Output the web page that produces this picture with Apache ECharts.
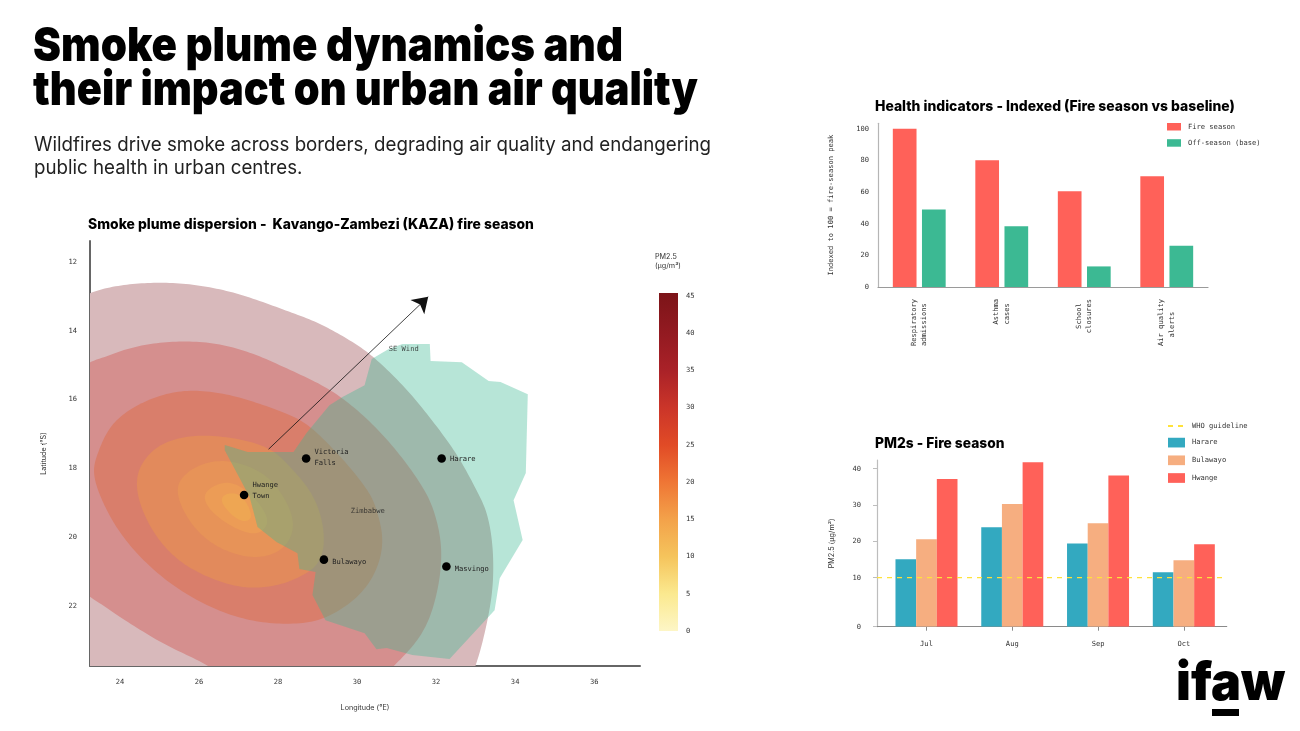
<!DOCTYPE html>
<html>
<head>
<meta charset="utf-8">
<style>html,body{margin:0;padding:0;background:#fff}#c{width:1300px;height:731px}</style>
<script src="https://cdn.jsdelivr.net/npm/echarts@6/dist/echarts.min.js"></script>
</head>
<body>
<div id="c"></div>
<script>
// ---- Data (longitude °E, latitude °S) ----
const plumeOuter = [[22.4,14.0],[22.8,13.2],[23.23,12.89],[23.73,12.73],[24.32,12.63],[24.92,12.60],[25.58,12.61],[26.27,12.73],[26.95,12.90],[27.61,13.16],[28.29,13.45],[28.87,13.69],[29.38,13.98],[29.89,14.33],[30.32,14.65],[30.82,15.20],[31.33,15.78],[31.83,16.51],[32.34,17.26],[32.77,18.05],[33.10,18.83],[33.28,19.21],[33.43,20.08],[33.45,20.87],[33.43,21.62],[33.30,22.41],[33.15,23.19],[33.00,23.72],[32.85,24.2],[32.5,24.8],[30,25.2],[23,25.2],[22.4,24.4]];
const plume2 = [[22.6,15.5],[23.23,14.97],[23.73,14.70],[24.32,14.47],[24.92,14.35],[25.58,14.30],[26.27,14.33],[26.95,14.50],[27.61,14.76],[28.29,15.14],[29.05,15.52],[29.63,15.95],[30.24,16.53],[30.82,17.23],[31.33,17.96],[31.76,18.72],[31.91,19.12],[32.11,19.88],[32.14,20.58],[32.09,21.24],[31.96,21.91],[31.76,22.61],[31.40,23.19],[31.00,23.66],[30.6,24.1],[30.1,24.6],[27.5,24.6],[26.8,24.2],[26.27,23.72],[25.58,23.37],[24.92,22.99],[24.24,22.49],[23.73,22.12],[23.23,21.65],[22.6,21.0]];
const plume3 = [[23.30,18.05],[23.41,17.67],[23.56,17.17],[23.81,16.68],[24.16,16.36],[24.57,16.07],[25.18,15.81],[25.76,15.72],[26.44,15.78],[27.10,15.95],[27.78,16.22],[28.47,16.51],[28.87,16.83],[29.38,17.41],[29.89,18.05],[30.32,18.72],[30.44,19.01],[30.62,19.70],[30.65,20.17],[30.57,20.75],[30.32,21.33],[29.94,21.83],[29.48,22.17],[28.97,22.47],[28.29,22.52],[27.61,22.49],[26.95,22.32],[26.27,22.03],[25.58,21.59],[24.92,21.04],[24.42,20.46],[23.99,19.88],[23.66,19.21],[23.43,18.63]];
const plume4 = [[24.42,18.34],[24.49,17.96],[24.75,17.55],[25.08,17.26],[25.58,17.09],[26.09,17.03],[26.77,17.09],[27.46,17.26],[27.96,17.52],[28.29,17.96],[28.62,18.34],[29.05,19.06],[29.18,19.99],[29.13,20.46],[28.97,20.87],[28.62,21.10],[28.22,21.33],[27.71,21.45],[27.20,21.48],[26.59,21.33],[26.01,21.04],[25.51,20.72],[25.00,20.14],[24.67,19.50],[24.44,18.83]];
const plume5 = [[25.41,18.72],[25.51,18.34],[25.76,18.05],[26.19,17.81],[26.70,17.76],[27.20,17.90],[27.71,18.19],[28.04,18.63],[28.37,19.30],[28.39,19.79],[28.22,20.29],[27.71,20.58],[27.20,20.58],[26.59,20.37],[26.09,19.99],[25.68,19.44]];
const plume6 = [[26.09,18.92],[26.19,18.63],[26.52,18.42],[26.85,18.40],[27.20,18.63],[27.53,19.01],[27.73,19.41],[27.73,19.65],[27.53,19.91],[27.20,19.88],[26.77,19.65],[26.39,19.35]];
const plume7 = [[26.54,18.92],[26.65,18.72],[26.95,18.72],[27.15,18.86],[27.35,19.35],[27.28,19.50],[27.08,19.56],[26.82,19.35],[26.65,19.12]];
const zimbabwe = [[26.65,17.32],[27.23,17.52],[28.39,17.52],[28.72,16.97],[29.30,16.16],[29.63,15.92],[30.19,15.58],[30.37,14.82],[30.80,14.53],[31.15,14.38],[31.84,14.38],[31.86,14.88],[32.65,14.91],[33.33,15.46],[33.63,15.49],[34.32,15.84],[34.27,18.13],[33.96,18.92],[34.19,20.08],[33.61,21.19],[33.48,22.12],[32.34,23.54],[31.40,23.42],[30.75,23.22],[30.49,23.25],[30.19,22.79],[29.20,22.41],[28.87,21.68],[28.95,21.01],[28.54,20.92],[28.49,20.46],[27.96,20.14],[27.48,19.70],[27.28,18.83],[26.65,17.47]];
const cities = [["Victoria\nFalls",28.71,17.71],["Hwange\nTown",27.14,18.77],["Bulawayo",29.16,20.65],["Harare",32.14,17.71],["Masvingo",32.26,20.85]];
const mapNotes = [["SE Wind",31.18,14.53],["Zimbabwe",30.27,19.23]];
const windArrow = [[27.76,17.44],[31.80,13.01]];
const lonTicks = [24,26,28,30,32,34,36];
const latTicks = [12,14,16,18,20,22];
const pmTicks = [0,5,10,15,20,25,30,35,40,45];

const healthCats = ["Respiratory\nadmissions","Asthma\ncases","School\nclosures","Air quality\nalerts"];
const healthFire = [100,80,60.5,70];
const healthBase = [49,38.3,13,26];

const months = ["Jul","Aug","Sep","Oct"];
const pmHarare = [15.1,23.9,19.4,11.5];
const pmBulawayo = [20.6,30.3,25,14.8];
const pmHwange = [37.2,41.8,38.1,19.2];
const whoGuide = [10,10];
const pmTickValues = [-3.5,10,20,30,40];

// ---- Styling ----
const MONO = '"DejaVu Sans Mono"';
const SANS = 'Inter';
const INK = '#333';
const MONOSIZE = 7.1;
const OFFSET = {"Victoria\nFalls":[1,-1],"Hwange\nTown":[1,-4],"Bulawayo":[1,2],"Harare":[1,1],"Masvingo":[1,3]};

// closed Catmull-Rom outline through the read points, then a light low-pass so reading noise
// does not show as wobble on the round contours
function roundOutline(p){
  const dense=[], n=p.length, S=8, WIN=10;
  for(let i=0;i<n;i++){
    const a=p[(i-1+n)%n], b=p[i], c=p[(i+1)%n], d=p[(i+2)%n];
    for(let k=0;k<S;k++){
      const t=k/S, t2=t*t, t3=t2*t;
      const f=j=>0.5*((2*b[j])+(-a[j]+c[j])*t+(2*a[j]-5*b[j]+4*c[j]-d[j])*t2+(-a[j]+3*b[j]-3*c[j]+d[j])*t3);
      dense.push([f(0),f(1)]);
    }
  }
  const m=dense.length, out=[];
  for(let i=0;i<m;i++){
    let sx=0,sy=0,sw=0;
    for(let w=-WIN;w<=WIN;w++){
      const g=WIN+1-Math.abs(w), q=dense[(i+w+m)%m];
      sx+=q[0]*g; sy+=q[1]*g; sw+=g;
    }
    out.push([sx/sw,sy/sw]);
  }
  return out;
}
function polySeries(name, pts, fill, round, opacity){
  return {
    type:'custom', name, xAxisIndex:0, yAxisIndex:0, clip:true, silent:true,
    data:pts, encode:{x:0,y:1},
    renderItem(params, api){
      if(params.dataIndex!==0) return;
      let p = pts.map(q=>api.coord(q));
      if(round) p = roundOutline(p);
      return {type:'polygon', shape:{points:p}, style:{fill, opacity}};
    }
  };
}
function barSeries(name, vals, slot, fill){
  const W = 0.241, YMIN = pmTickValues[0];
  return {
    type:'custom', name, xAxisIndex:3, yAxisIndex:3, silent:true, clip:true,
    itemStyle:{color:fill},
    data:vals.map((v,i)=>[i,v]), encode:{x:0,y:1},
    renderItem(params, api){
      const x = api.value(0)+slot*W;
      const t = api.coord([x,api.value(1)]);
      const b = api.coord([x,YMIN]);
      const w = api.size([W,0])[0];
      return {type:'rect', shape:{x:t[0]-w/2,y:t[1],width:w,height:b[1]-t[1]}, style:{fill}};
    }
  };
}
function pad(s){ // centre the wrapped lines of the monospace labels
  const l = s.split('\n'), m = Math.max(...l.map(x=>x.length));
  return l.map(x=>{const k=m-x.length,a=Math.floor(k/2);return ' '.repeat(a)+x+' '.repeat(k-a);}).join('\n');
}
function txt(text,x,y,font,sx,fill){
  return {type:'text',x,y,scaleX:sx||1,silent:true,style:{text,font,fill:fill||'#000',align:'left',verticalAlign:'middle'}};
}

const chart = echarts.init(document.getElementById('c'));
chart.setOption({
  animation:false,
  backgroundColor:'#fff',
  tooltip:{show:false},
  graphic:[
    txt('Smoke plume dynamics and',33,47,'900 47px Inter',0.895),
    txt('their impact on urban air quality',33,91,'900 47px Inter',0.883),
    txt('Wildfires drive smoke across borders, degrading air quality and endangering',34,145.5,'400 19.5px Inter',0.96,'#222'),
    txt('public health in urban centres.',34,168.5,'400 19.5px Inter',0.96,'#222'),
    txt('Smoke plume dispersion -  Kavango-Zambezi (KAZA) fire season',88,224.5,'800 14.5px Inter',0.958),
    txt('Health indicators - Indexed (Fire season vs baseline)',875,106.5,'800 14.5px Inter',0.96),
    txt('PM2s - Fire season',875,443.5,'800 14.5px Inter',0.95),
    txt('PM2.5',655,257,'400 7.2px Inter',1,INK),
    txt('(µg/m³)',655,266,'400 7.2px Inter',1,INK),
    txt('ifaw',1176,684.5,'900 53px Inter',0.95),
    {type:'rect',silent:true,shape:{x:1212,y:709,width:27,height:7},style:{fill:'#000'}}
  ],
  legend:[
    {left:1167,top:123,padding:0,orient:'vertical',itemWidth:14,itemHeight:7.5,itemGap:8.7,icon:'rect',selectedMode:false,
     textStyle:{fontFamily:MONO,fontSize:MONOSIZE,color:INK,padding:[0,0,0,2]},
     data:['Fire season','Off-season (base)']},
    {left:1167,top:422,padding:0,orient:'vertical',itemWidth:17,itemHeight:9.7,itemGap:8,selectedMode:false,
     textStyle:{fontFamily:MONO,fontSize:MONOSIZE,color:INK,padding:[0,0,0,2]},
     data:[{name:'WHO guideline',itemStyle:{opacity:0}},{name:'Harare',icon:'rect'},{name:'Bulawayo',icon:'rect'},{name:'Hwange',icon:'rect'}]}
  ],
  grid:[
    {left:90,top:241,width:550,height:425,containLabel:false},
    {left:659,top:293,width:19,height:338},
    {left:878,top:123.3,width:330,height:163.7},
    {left:877,top:460,width:349.7,height:166.7}
  ],
  xAxis:[
    {gridIndex:0,type:'value',min:23.24,max:37.16,splitLine:{show:false},
     name:'Longitude (°E)',nameLocation:'middle',nameGap:38,nameTextStyle:{fontFamily:SANS,fontSize:7.2,color:INK},
     axisLine:{show:true,onZero:false,lineStyle:{color:'#666',width:2}},axisTick:{show:false},
     axisLabel:{customValues:lonTicks,margin:13,fontFamily:MONO,fontSize:MONOSIZE,color:INK}},
    {gridIndex:1,type:'category',data:['PM2.5'],show:false},
    {gridIndex:2,type:'category',data:healthCats,
     axisLine:{lineStyle:{color:'#9a9a9a',width:1.2}},axisTick:{show:false},
     axisLabel:{interval:0,rotate:90,margin:12,lineHeight:10.7,padding:[8,0,0,0],fontFamily:MONO,fontSize:MONOSIZE,color:INK,formatter:pad}},
    {gridIndex:3,type:'value',min:-0.577,max:3.5,splitLine:{show:false},
     axisLine:{show:true,onZero:false,lineStyle:{color:'#8a8a8a',width:1.2}},
     axisTick:{show:true,length:4,customValues:[0,1,2,3],lineStyle:{color:'#8a8a8a'}},
     axisLabel:{customValues:[0,1,2,3],margin:13.5,fontFamily:MONO,fontSize:MONOSIZE,color:INK,formatter:v=>months[v]}}
  ],
  yAxis:[
    {gridIndex:0,type:'value',inverse:true,min:11.39,max:23.74,splitLine:{show:false},
     name:'Latitude (°S)',nameLocation:'middle',nameGap:43,nameTextStyle:{fontFamily:SANS,fontSize:7.2,color:INK},
     axisLine:{show:true,onZero:false,lineStyle:{color:'#666',width:2}},axisTick:{show:false},
     axisLabel:{customValues:latTicks,margin:13,fontFamily:MONO,fontSize:MONOSIZE,color:INK}},
    {gridIndex:1,type:'value',position:'right',min:0,max:45.4,splitLine:{show:false},
     axisLine:{show:false},axisTick:{show:false},
     axisLabel:{customValues:pmTicks,margin:8,fontFamily:MONO,fontSize:MONOSIZE,color:INK}},
    {gridIndex:2,type:'value',min:0,max:103.4,splitLine:{show:false},
     name:'Indexed to 100 = fire-season peak',nameLocation:'middle',nameGap:43,nameTextStyle:{fontFamily:MONO,fontSize:MONOSIZE,color:INK},
     axisLine:{show:true,lineStyle:{color:'#b5b5b5',width:1.2}},axisTick:{show:false},
     axisLabel:{customValues:[0,20,40,60,80,100],margin:9,fontFamily:MONO,fontSize:MONOSIZE,color:INK}},
    {gridIndex:3,type:'value',min:-3.5,max:42.4,splitLine:{show:false},
     name:'PM2.5 (µg/m³)',nameLocation:'middle',nameGap:42,nameTextStyle:{fontFamily:SANS,fontSize:7.2,color:INK},
     axisLine:{show:true,onZero:false,lineStyle:{color:'#bdbdbd',width:1.2}},
     axisTick:{show:true,length:4,customValues:pmTickValues,lineStyle:{color:'#bdbdbd'}},
     axisLabel:{customValues:pmTickValues,margin:16,fontFamily:MONO,fontSize:MONOSIZE,color:INK,formatter:v=>v<0?'0':String(v)}}
  ],
  series:[
    polySeries('outer',plumeOuter,'#d8b9bb',true,1),
    polySeries('p2',plume2,'#d58f8e',true,1),
    polySeries('p3',plume3,'#d97e6b',true,1),
    polySeries('p4',plume4,'#e28a5c',true,1),
    polySeries('p5',plume5,'#e79358',true,1),
    polySeries('p6',plume6,'#ec9c56',true,1),
    polySeries('p7',plume7,'#eea653',true,1),
    polySeries('Zimbabwe',zimbabwe,'#3cb993',false,0.37),
    {type:'scatter',xAxisIndex:0,yAxisIndex:0,silent:true,symbolSize:8.6,itemStyle:{color:'#000',opacity:1},
     data:cities.map(c=>({name:c[0],value:[c[1],c[2]],label:{offset:OFFSET[c[0]]}})),
     label:{show:true,position:'right',distance:3,align:'left',lineHeight:10.7,fontFamily:MONO,fontSize:MONOSIZE,color:'#222',formatter:p=>p.name},
     markLine:{silent:true,symbol:['none','arrow'],symbolSize:15,lineStyle:{color:'#111',width:0.8,type:'solid'},label:{show:false},
       data:[[{coord:windArrow[0]},{coord:windArrow[1]}]]}},
    {type:'scatter',xAxisIndex:0,yAxisIndex:0,silent:true,symbolSize:0,
     data:mapNotes.map(c=>({name:c[0],value:[c[1],c[2]]})),
     label:{show:true,position:'inside',fontFamily:MONO,fontSize:MONOSIZE,color:'#222',formatter:p=>p.name}},
    {type:'bar',xAxisIndex:1,yAxisIndex:1,silent:true,barWidth:'100%',data:[45.4],
     itemStyle:{color:new echarts.graphic.LinearGradient(0,1,0,0,[
       {offset:0,color:'#fdf6c6'},{offset:.11,color:'#fbe98f'},{offset:.22,color:'#f5c45c'},{offset:.33,color:'#f3a24a'},
       {offset:.44,color:'#ef7635'},{offset:.55,color:'#e14b26'},{offset:.66,color:'#cb3529'},{offset:.77,color:'#aa2228'},
       {offset:.88,color:'#931a21'},{offset:1,color:'#7c1418'}])}},
    {type:'bar',name:'Fire season',xAxisIndex:2,yAxisIndex:2,silent:true,barWidth:23.7,barGap:'23%',data:healthFire,itemStyle:{color:'#ff6159'}},
    {type:'bar',name:'Off-season (base)',xAxisIndex:2,yAxisIndex:2,silent:true,barWidth:23.7,data:healthBase,itemStyle:{color:'#3cb993'}},
    barSeries('Harare',pmHarare,-1,'#33a9c0'),
    barSeries('Bulawayo',pmBulawayo,0,'#f6ae80'),
    barSeries('Hwange',pmHwange,1,'#ff6159'),
    {type:'line',name:'WHO guideline',xAxisIndex:3,yAxisIndex:3,silent:true,symbol:'none',z:5,
     data:[[-0.577,whoGuide[0]],[3.5,whoGuide[1]]],
     itemStyle:{color:'#ffe23a'},lineStyle:{color:'#ffe23a',width:1.2,type:[5,5]}}
  ]
});
</script>
</body>
</html>
